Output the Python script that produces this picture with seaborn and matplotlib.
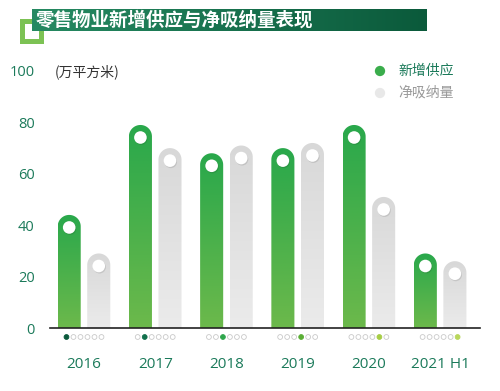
import numpy as np
import pandas as pd
import matplotlib
matplotlib.use('Agg')
import matplotlib.pyplot as plt
import seaborn as sns
from matplotlib.path import Path
from matplotlib.patches import PathPatch, Ellipse, Rectangle
from matplotlib.colors import LinearSegmentedColormap, to_rgb

# ── data ──────────────────────────────────────
years = ['2016', '2017', '2018', '2019', '2020', '2021 H1']
supply = [44, 79, 68, 70, 79, 29]        # 新增供应
absorption = [29, 70, 71, 72, 51, 26]    # 净吸纳量
series_names = ['新增供应', '净吸纳量']
yticks = [0, 20, 40, 60, 80, 100]
dot_colors = ['#0b5a3c', '#11704c', '#2ea64c', '#5aae35', '#a6cd45', '#b9d75c']

GREEN = '#3aad4c'
GREY = '#e2e2e2'
TEAL = '#1b7a5a'

df = pd.DataFrame({
    'year': years * 2,
    'value': supply + absorption,
    'series': [series_names[0]] * len(years) + [series_names[1]] * len(years),
})

sns.set_style('white')
plt.rcParams['font.family'] = ['Open Sans', 'Noto Sans CJK SC', 'DejaVu Sans']

fig = plt.figure(figsize=(5, 3.91), dpi=100)
ax = fig.add_axes([50 / 500, 1 - 328 / 391, 430 / 500, (328 - 71) / 391])

sns.barplot(data=df, x='year', y='value', hue='series', hue_order=series_names,
            palette=[GREEN, GREY], width=0.83, gap=0.22, saturation=1,
            errorbar=None, legend=False, ax=ax)

xlim = (-0.477, 5.56)
ax.set_xlim(*xlim)
ax.set_ylim(0, 100)

# pixel scale of the data units
p0 = ax.transData.transform((0, 0))
p1 = ax.transData.transform((1, 1))
pxx, pxy = p1[0] - p0[0], p1[1] - p0[1]

cmap_green = LinearSegmentedColormap.from_list('g', ['#29a84b', '#6cb94b'])
cmap_grey = LinearSegmentedColormap.from_list('k', ['#d8d8d8', '#ebebeb'])
grad = np.linspace(0, 1, 128).reshape(-1, 1)

# turn the seaborn bars into rounded, gradient filled bars
for p in list(ax.patches):
    x0, w, h = p.get_x(), p.get_width(), p.get_height()
    is_green = np.allclose(p.get_facecolor()[:3], to_rgb(GREEN), atol=0.02)
    p.set_visible(False)
    cx = x0 + w / 2
    ry = (w / 2) * pxx / pxy
    cy = h - ry
    theta = np.linspace(0, np.pi, 40)
    arc = np.column_stack([cx + (w / 2) * np.cos(theta), cy + ry * np.sin(theta)])
    verts = np.vstack([[(x0, 0), (x0 + w, 0), (x0 + w, cy)], arc, [(x0, cy), (x0, 0)]])
    shape = PathPatch(Path(verts), fc='none', ec='none', transform=ax.transData)
    ax.add_patch(shape)
    im = ax.imshow(grad, extent=[x0, x0 + w, 0, h], aspect='auto', origin='upper',
                   cmap=cmap_green if is_green else cmap_grey, zorder=2)
    im.set_clip_path(shape)
    # white knob
    r = 6.3
    ax.add_patch(Ellipse((cx + 0.8 / pxx, cy - 2.2 / pxy), 2 * r / pxx, 2 * r / pxy,
                         fc='black', alpha=0.10, ec='none', zorder=3))
    ax.add_patch(Ellipse((cx, cy - 1.0 / pxy), 2 * r / pxx, 2 * r / pxy,
                         fc='white', ec='none', zorder=4))

ax.set_xlim(*xlim)
ax.set_ylim(0, 100)

# page dots under each year
offsets = (np.arange(6) - 2.5) * 7 / pxx
for i, c in enumerate(dot_colors):
    xs = i + offsets
    fcs = ['white'] * 6
    ecs = ['#c9c9c9'] * 6
    fcs[i] = c
    ecs[i] = c
    ax.scatter(xs, [-9 / pxy] * 6, s=12, c=fcs, edgecolors=ecs, linewidths=0.6,
               clip_on=False, zorder=5)

for s in ['top', 'right', 'left']:
    ax.spines[s].set_visible(False)
ax.spines['bottom'].set_color('#222222')
ax.spines['bottom'].set_linewidth(1.2)
ax.set_yticks(yticks)
ax.set_xlabel('')
ax.set_ylabel('')
ax.tick_params(axis='x', length=0, pad=21, labelsize=11, labelcolor=TEAL)
ax.tick_params(axis='y', length=0, pad=11, labelsize=10.5, labelcolor=TEAL)
ax.grid(False)

# overlay in pixel coordinates for title and legend
ov = fig.add_axes([0, 0, 1, 1], facecolor='none')
ov.set_xlim(0, 500)
ov.set_ylim(391, 0)
ov.axis('off')

ov.add_patch(Rectangle((21.5, 20.5), 19, 20, fill=False, ec='#7cc254', lw=3.6, zorder=1))
cmap_banner = LinearSegmentedColormap.from_list('b', ['#268a62', '#0b5a3b'])
ov.imshow(np.linspace(0, 1, 256).reshape(1, -1), extent=[32, 427, 31, 9],
          aspect='auto', cmap=cmap_banner, zorder=2)
ov.text(36, 20.5, '零售物业新增供应与净吸纳量表现', color='white', fontsize=13.3,
        fontweight='bold', va='center', ha='left', zorder=3,
        family=['Noto Sans CJK SC', 'DejaVu Sans'])
ov.set_xlim(0, 500)
ov.set_ylim(391, 0)

ov.text(55, 72, '(万平方米)', color='#333333', fontsize=10, va='center', ha='left',
        family=['Noto Sans CJK SC', 'DejaVu Sans'])

ov.scatter([380], [71], s=55, c='#3aad4c', edgecolors='none')
ov.scatter([380], [93], s=55, c='#e8e8e8', edgecolors='none')
ov.text(398, 71, series_names[0], color=TEAL, fontsize=10, fontweight='medium',
        va='center', ha='left', family=['Noto Sans CJK SC', 'DejaVu Sans'])
ov.text(398, 93, series_names[1], color='#9a9a9a', fontsize=10,
        va='center', ha='left', family=['Noto Sans CJK SC', 'DejaVu Sans'])

fig.savefig('out.png', dpi=100, facecolor='white')
